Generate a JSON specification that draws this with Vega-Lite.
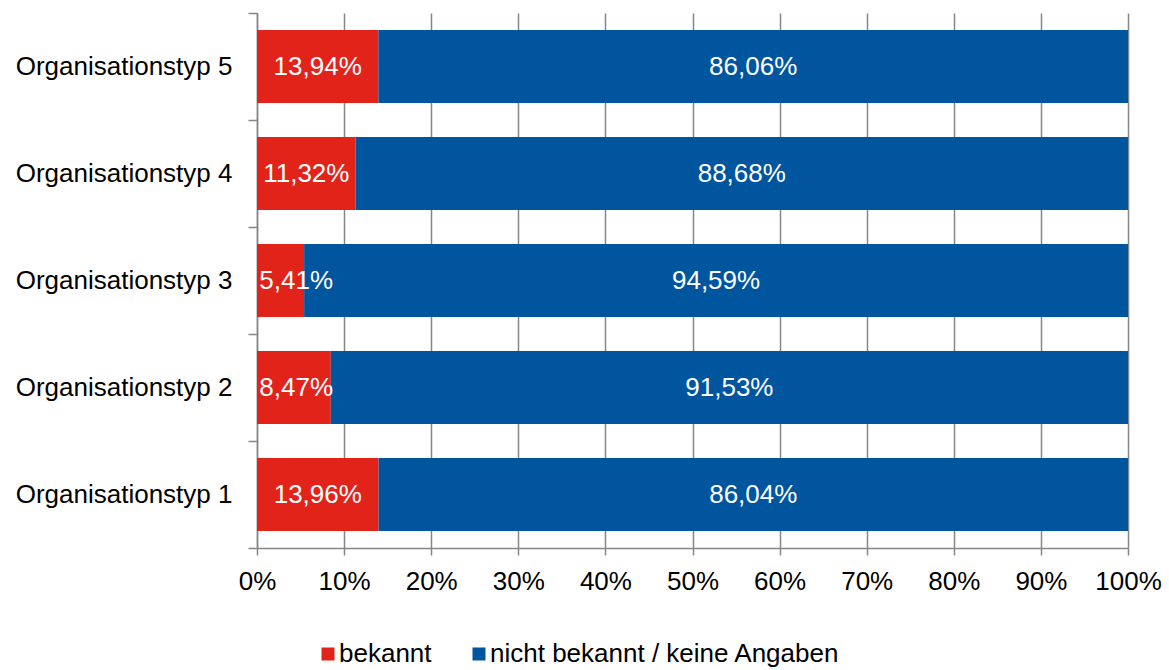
{
  "$schema": "https://vega.github.io/schema/vega-lite/v6.json",
  "width": 871,
  "height": 535,
  "autosize": "none",
  "padding": {"left": 257, "top": 13, "right": 41, "bottom": 122},
  "background": "white",
  "config": {
    "locale": {"number": {"decimal": ",", "thousands": ".", "grouping": [3], "currency": ["", " €"]}},
    "font": "Liberation Sans",
    "view": {"stroke": null}
  },
  "data": {
    "values": [
      {"typ": "Organisationstyp 1", "status": "bekannt", "anteil": 0.1396},
      {"typ": "Organisationstyp 1", "status": "nicht bekannt / keine Angaben", "anteil": 0.8604},
      {"typ": "Organisationstyp 2", "status": "bekannt", "anteil": 0.0847},
      {"typ": "Organisationstyp 2", "status": "nicht bekannt / keine Angaben", "anteil": 0.9153},
      {"typ": "Organisationstyp 3", "status": "bekannt", "anteil": 0.0541},
      {"typ": "Organisationstyp 3", "status": "nicht bekannt / keine Angaben", "anteil": 0.9459},
      {"typ": "Organisationstyp 4", "status": "bekannt", "anteil": 0.1132},
      {"typ": "Organisationstyp 4", "status": "nicht bekannt / keine Angaben", "anteil": 0.8868},
      {"typ": "Organisationstyp 5", "status": "bekannt", "anteil": 0.1394},
      {"typ": "Organisationstyp 5", "status": "nicht bekannt / keine Angaben", "anteil": 0.8606}
    ]
  },
  "transform": [
    {"stack": "anteil", "groupby": ["typ"], "sort": [{"field": "status", "order": "ascending"}], "as": ["s0", "s1"]},
    {"calculate": "max((datum.s0 + datum.s1) / 2, 0.045)", "as": "labelpos"}
  ],
  "encoding": {
    "y": {
      "field": "typ",
      "type": "nominal",
      "sort": "descending",
      "title": null,
      "scale": {"paddingInner": 0, "paddingOuter": 0},
      "axis": {
        "tickBand": "extent",
        "tickSize": 9,
        "tickColor": "#868686",
        "tickWidth": 1.5,
        "domainColor": "#868686",
        "domainWidth": 1.5,
        "labelFontSize": 26,
        "labelColor": "#000000",
        "labelPadding": 16,
        "labelLimit": 0,
        "labelFont": "Liberation Sans",
        "grid": false
      }
    }
  },
  "layer": [
    {
      "mark": {"type": "bar", "height": {"band": 0.68}},
      "encoding": {
        "x": {
          "field": "s0",
          "type": "quantitative",
          "title": null,
          "scale": {"domain": [0, 1], "nice": false},
          "axis": {
            "format": ".0%",
            "values": [0, 0.1, 0.2, 0.3, 0.4, 0.5, 0.6, 0.7, 0.8, 0.9, 1],
            "grid": true,
            "gridColor": "#868686",
            "gridWidth": 1.5,
            "tickSize": 7,
            "tickColor": "#868686",
            "tickWidth": 1.5,
            "domainColor": "#868686",
            "domainWidth": 1.5,
            "labelFontSize": 26,
            "labelColor": "#000000",
            "labelPadding": 13,
            "labelFont": "Liberation Sans",
            "labelFlush": false
          }
        },
        "x2": {"field": "s1"},
        "color": {
          "field": "status",
          "type": "nominal",
          "scale": {"domain": ["bekannt", "nicht bekannt / keine Angaben"], "range": ["#e2231a", "#00559f"]},
          "legend": {
            "title": null,
            "orient": "none",
            "direction": "horizontal",
            "legendX": 58,
            "legendY": 628,
            "symbolType": "square",
            "symbolSize": 169,
            "symbolStrokeWidth": 0,
            "labelFontSize": 26,
            "labelFont": "Liberation Sans",
            "labelColor": "#000000",
            "labelOffset": -2,
            "labelLimit": 0,
            "columnPadding": 34,
            "padding": 0
          }
        }
      }
    },
    {
      "mark": {"type": "text", "color": "white", "fontSize": 26, "font": "Liberation Sans", "baseline": "middle", "align": "center"},
      "encoding": {
        "x": {"field": "labelpos", "type": "quantitative"},
        "text": {"field": "anteil", "type": "quantitative", "format": ".2%"}
      }
    }
  ]
}
